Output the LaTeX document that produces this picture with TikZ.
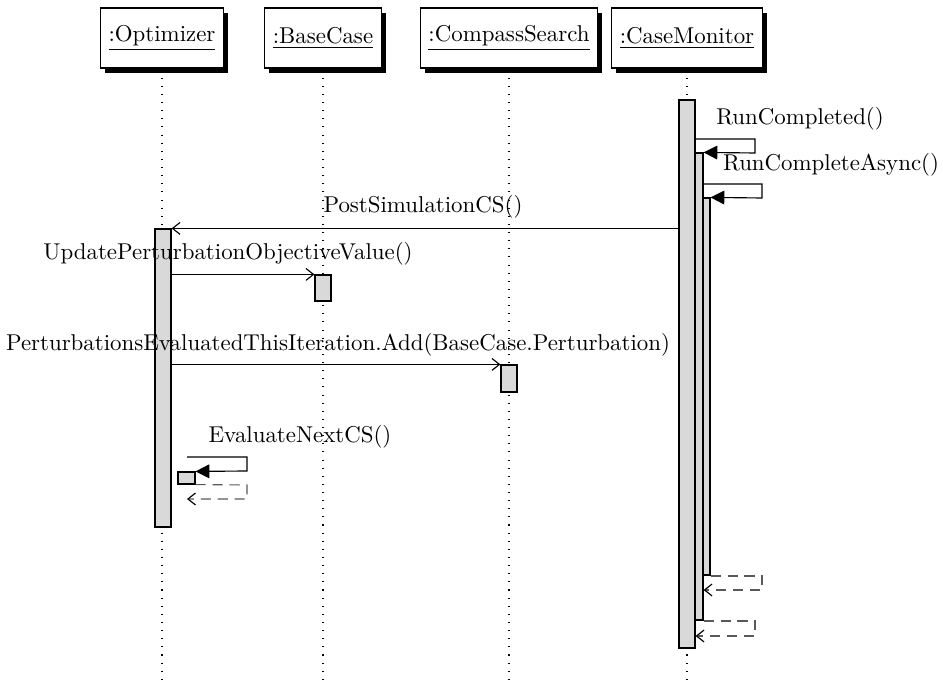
\documentclass[tikz,border=0pt]{standalone}
\usetikzlibrary{arrows.meta,shadows,fit}

\tikzset{
  objbox/.style={draw, fill=white, rectangle, inner xsep=3.5pt,
    minimum height=26.2pt, line width=0.5pt,
    drop shadow={shadow xshift=2pt, shadow yshift=-2pt, fill=black, opacity=1}},
  lifeline/.style={line width=0.45pt, dash pattern=on 0.45pt off 3.1pt},
  act/.style={draw, fill=gray!30, inner sep=0pt, line width=0.5pt},
  msg/.style={line width=0.5pt, -{Straight Barb[length=3.3pt,width=5.2pt]}},
  selfcall/.style={line width=0.5pt, -{Triangle[length=6pt,width=6pt]}},
  retmsg/.style={line width=0.5pt, draw=black!65, dash pattern=on 4.4pt off 3pt,
    -{Straight Barb[length=3.3pt,width=5.2pt,black]}},
  lbl/.style={anchor=base, inner sep=0pt, font=\normalsize},
}

\begin{document}
\begin{tikzpicture}[x=0.437pt,y=-0.437pt]
  \useasboundingbox (0,0) rectangle (943,683);

  % participants
  \node[objbox] (opt) at (162,38) {\underline{:Optimizer}};
  \node[objbox] (bc)  at (323,38) {\underline{:BaseCase}};
  \node[objbox] (cs)  at (509,38) {\underline{:CompassSearch}};
  \node[objbox] (cm)  at (687,38) {\underline{:CaseMonitor}};

  % lifeline ends
  \coordinate (optEnd) at (162,683);
  \coordinate (bcEnd)  at (323,683);
  \coordinate (csEnd)  at (509,683);
  \coordinate (cmEnd)  at (687,683);
  \draw[lifeline] ([yshift=-4pt]opt.south) -- (optEnd);
  \draw[lifeline] ([yshift=-4pt]bc.south)  -- (bcEnd);
  \draw[lifeline] ([yshift=-4pt]cs.south)  -- (csEnd);
  \draw[lifeline] ([yshift=-4pt]cm.south)  -- (cmEnd);

  % activation bars
  \node[act, fit={(679,100)(695,648)}] (cm1) {};
  \node[act, fit={(695,153)(703,620)}] (cm2) {};
  \node[act, fit={(703,198)(710,575)}] (cm3) {};
  \node[act, fit={(155,229)(171,527)}] (opt1) {};
  \node[act, fit={(315,275)(331,301)}] (bc1) {};
  \node[act, fit={(501,365)(517,392)}] (cs1) {};
  \node[act, fit={(178,472)(195,484)}] (opt2) {};

  % RunCompleted() self call
  \coordinate (rc1) at (755,139);
  \coordinate (rc2) at (755,153);
  \draw[selfcall] (cm1.east |- rc1) -- (rc1) -- (rc2) -- (cm2.north east);
  \node[lbl] (lrc) at (800,125) {RunCompleted()};

  % RunCompleteAsync() self call
  \coordinate (ra1) at (762,184);
  \coordinate (ra2) at (762,198);
  \draw[selfcall] (cm2.east |- ra1) -- (ra1) -- (ra2) -- (cm3.north east);
  \node[lbl] (lra) at (831,171) {RunCompleteAsync()};

  % returns of the self calls
  \coordinate (r1a) at (762,576);
  \coordinate (r1b) at (762,590);
  \draw[retmsg] (cm3.south east |- r1a) -- (r1a) -- (r1b) -- (cm2.east |- r1b);
  \coordinate (r2a) at (755,621);
  \coordinate (r2b) at (755,636);
  \draw[retmsg] (cm2.east |- r2a) -- (r2a) -- (r2b) -- (cm1.east |- r2b);

  % PostSimulationCS()
  \draw[msg] (cm1.west |- opt1.north) -- (opt1.north east);
  \node[lbl] (lps) at (423,213) {PostSimulationCS()};

  % UpdatePerturbationObjectiveValue()
  \draw[msg] (opt1.east |- bc1.north) -- (bc1.north west);
  \node[lbl] (lup) at (228,260) {UpdatePerturbationObjectiveValue()};

  % PerturbationsEvaluatedThisIteration.Add(...)
  \draw[msg] (opt1.east |- cs1.north) -- (cs1.north west);
  \node[lbl] (lpe) at (338,351) {PerturbationsEvaluatedThisIteration.Add(BaseCase.Perturbation)};

  % EvaluateNextCS() self call and its return
  \coordinate (en0) at (187,457);
  \coordinate (en1) at (247,457);
  \coordinate (en2) at (247,471);
  \draw[selfcall] (en0) -- (en1) -- (en2) -- (opt2.north east);
  \node[lbl] (len) at (300,443) {EvaluateNextCS()};
  \coordinate (er1) at (247,485);
  \coordinate (er2) at (247,499);
  \coordinate (er3) at (187,499);
  \draw[retmsg] (opt2.south east) -- (er1) -- (er2) -- (er3);
\end{tikzpicture}
\end{document}
